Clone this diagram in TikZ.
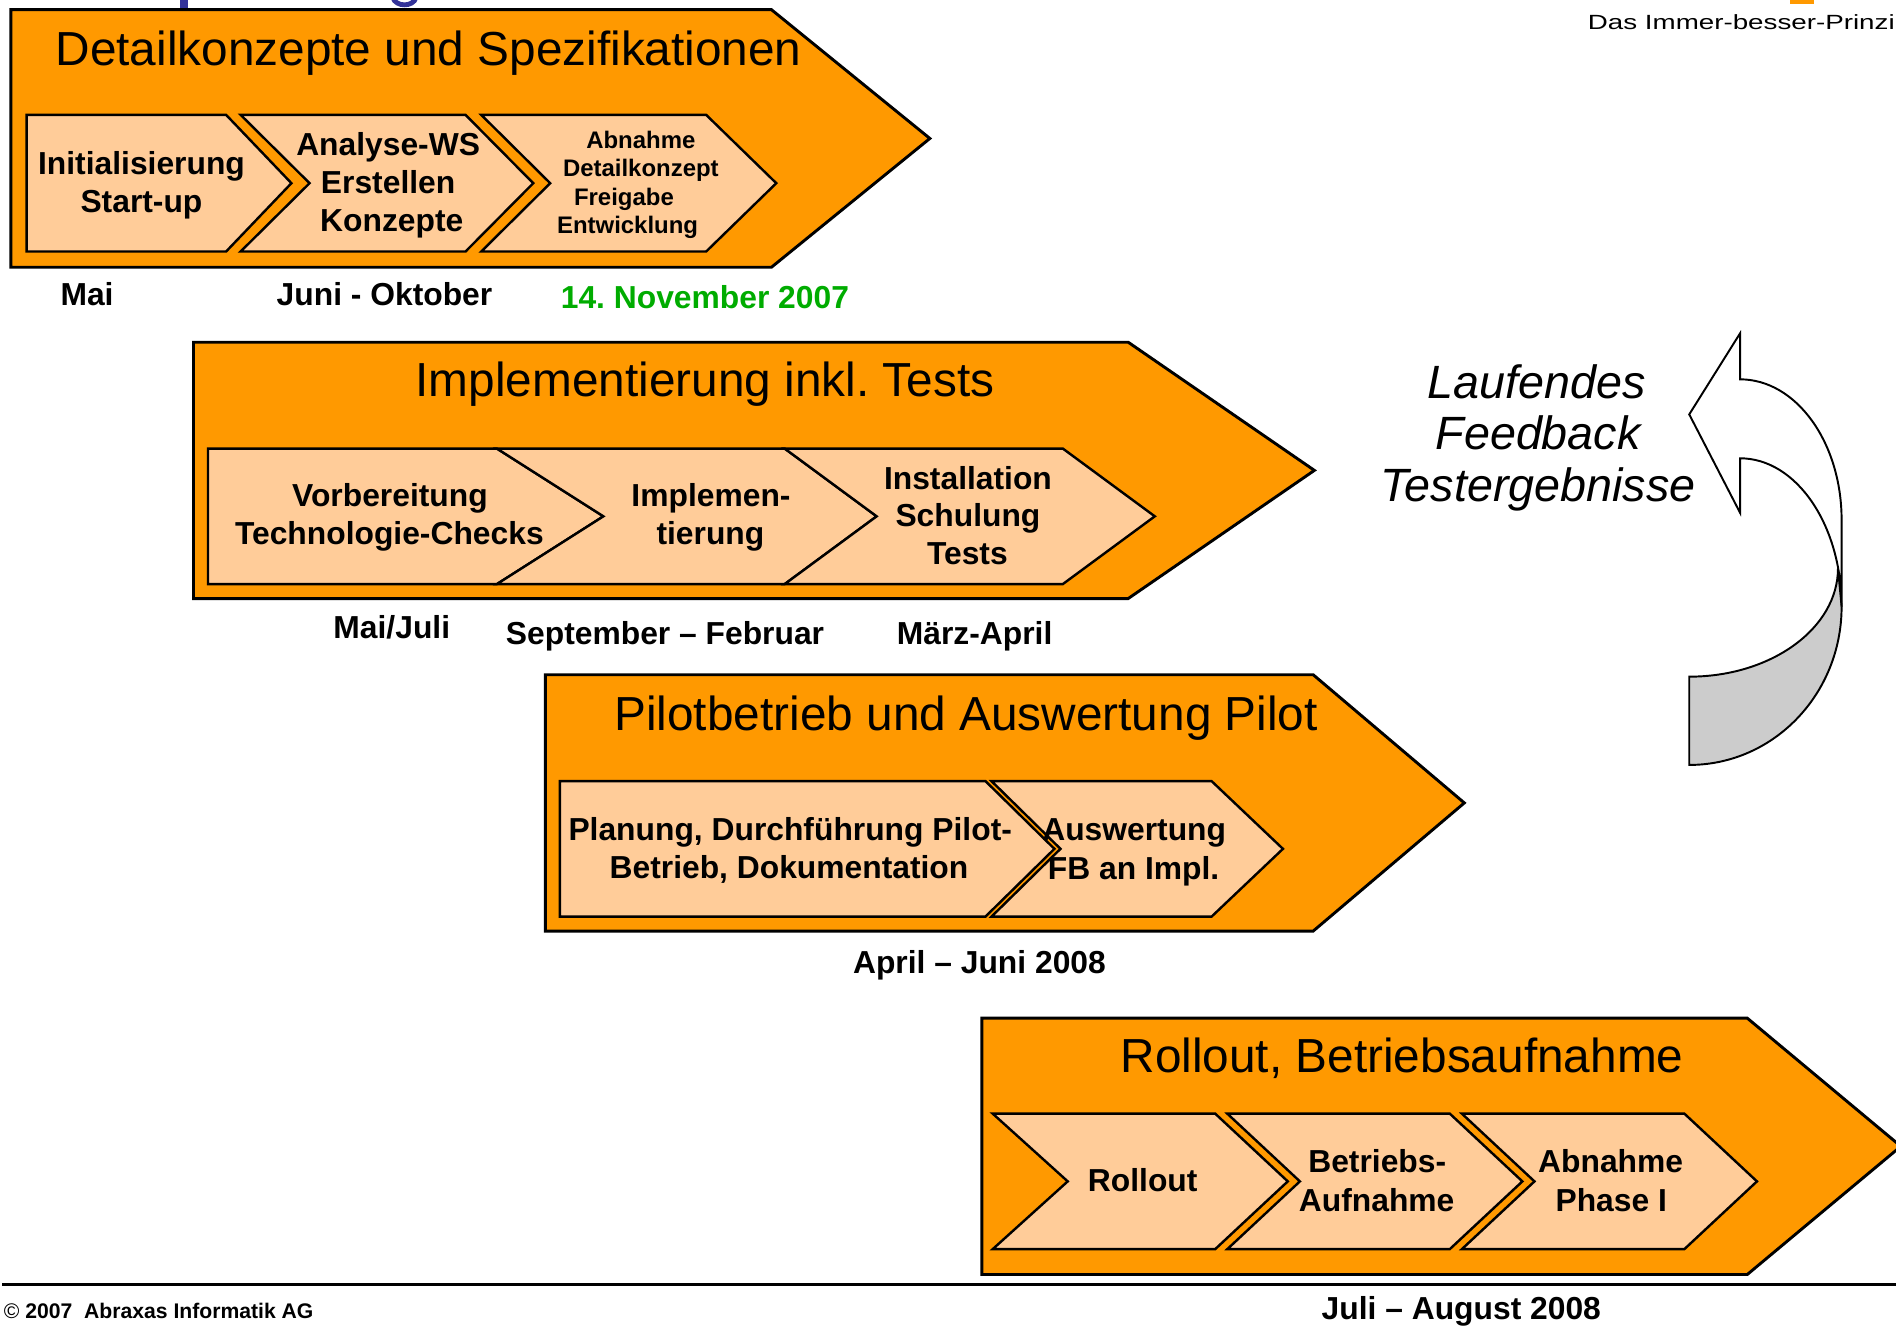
\documentclass[tikz,border=0pt]{standalone}
\usepackage{fontspec}
\setmainfont{Liberation Sans}
\frenchspacing
\definecolor{phaseorange}{RGB}{255,153,0}
\definecolor{stepfill}{RGB}{255,204,153}
\definecolor{backgrey}{RGB}{204,204,204}
\definecolor{dategreen}{RGB}{0,172,0}
\definecolor{titleblue}{RGB}{51,51,153}
\begin{document}
\begin{tikzpicture}[x=1pt,y=-1pt,
  phase/.style={draw=black,line width=2.4pt,fill=phaseorange,line join=miter},
  stepshape/.style={draw=black,line width=2pt,fill=stepfill,line join=miter},
  ttl/.style={anchor=base,inner sep=0pt,font=\fontsize{39.5}{44}\selectfont},
  lbl/.style={anchor=base,inner sep=0pt,font=\bfseries\fontsize{26.3}{30}\selectfont},
  sml/.style={anchor=base,inner sep=0pt,font=\bfseries\fontsize{19.8}{24}\selectfont},
  fbk/.style={anchor=base,inner sep=0pt,font=\itshape\fontsize{38.6}{43}\selectfont},
  arrowpart/.style={draw=black,line width=1.6pt,line join=miter}]
\useasboundingbox (0,0) rectangle (1568,1098);
\clip (0,0) rectangle (1568,1098);
\fill[white] (0,0) rectangle (1568,1098);

% fragments at the top edge
\fill[titleblue] (149,-1) rectangle (155.5,7);
\draw[titleblue,line width=4pt] (325,-2) .. controls (327,6) and (342,6) .. (344,-2);
\fill[phaseorange] (1480,-1) rectangle (1500,3);
\node[anchor=base west,inner sep=0pt,font=\fontsize{17}{20}\selectfont] (hdr) at (1313,24.8)
  {\scalebox{1.35}[1]{Das Immer-besser-Prinzip}};

% ---------- phase 1 ----------
\draw[phase] (9,8) -- (638,8) -- (769,114.5) -- (638,221) -- (9,221) -- cycle;
\node[ttl] (t1) at (354.5,54) {Detailkonzepte und Spezifikationen};
\draw[stepshape] (22,95) -- (187,95) -- (241,151.5) -- (187,208) -- (22,208) -- cycle;
\draw[stepshape] (199,95) -- (385,95) -- (441,151.5) -- (385,208) -- (199,208) -- (256,151.5) -- cycle;
\draw[stepshape] (398,95) -- (584,95) -- (642,151.5) -- (584,208) -- (398,208) -- (455,151.5) -- cycle;
\node[lbl] (a1) at (117,144.7) {Initialisierung};
\node[lbl] (a2) at (117,175.6) {Start-up};
\node[lbl] (b1) at (321,128.2) {Analyse-WS};
\node[lbl] (b2) at (321,160) {Erstellen};
\node[lbl] (b3) at (324,191.6) {Konzepte};
\node[sml] (c1) at (530,122.7) {Abnahme};
\node[sml] (c2) at (530,146.1) {Detailkonzept};
\node[sml] (c3) at (516,169.6) {Freigabe};
\node[sml] (c4) at (519,193) {Entwicklung};
\node[lbl] (d1) at (72,252.3) {Mai};
\node[lbl] (d2) at (318,252.3) {Juni - Oktober};
\node[lbl,text=dategreen] (d3) at (583,255) {14. November 2007};

% ---------- phase 2 ----------
\draw[phase] (160,283) -- (933,283) -- (1087,389) -- (933,495) -- (160,495) -- cycle;
\node[ttl] (t2) at (583,328) {Implementierung inkl. Tests};
\draw[stepshape] (172,371) -- (411,371) -- (499,427) -- (411,483) -- (172,483) -- cycle;
\draw[stepshape] (411,371) -- (649,371) -- (725,427) -- (649,483) -- (411,483) -- (499,427) -- cycle;
\draw[stepshape] (649,371) -- (879,371) -- (955,427) -- (879,483) -- (649,483) -- (725,427) -- cycle;
\node[lbl] (e1) at (322.5,419) {Vorbereitung};
\node[lbl] (e2) at (322,450.7) {Technologie-Checks};
\node[lbl] (f1) at (588,419) {Implemen-};
\node[lbl] (f2) at (587.5,450.7) {tierung};
\node[lbl] (g1) at (800.5,404.7) {Installation};
\node[lbl] (g2) at (800.5,435.6) {Schulung};
\node[lbl] (g3) at (800,466.7) {Tests};
\node[lbl] (d4) at (324,527.9) {Mai/Juli};
\node[lbl] (d5) at (550,533.4) {September – Februar};
\node[lbl] (d6) at (806,533.4) {März-April};

% ---------- phase 3 ----------
\draw[phase] (451,558) -- (1086,558) -- (1211,664) -- (1086,770) -- (451,770) -- cycle;
\node[ttl] (t3) at (799,604) {Pilotbetrieb und Auswertung Pilot};
\draw[stepshape] (463,646) -- (815,646) -- (872,702) -- (815,758) -- (463,758) -- cycle;
\draw[stepshape] (820,646) -- (1002,646) -- (1061,702) -- (1002,758) -- (820,758) -- (877,702) -- cycle;
\node[lbl] (h1) at (653.5,694.7) {Planung, Durchführung Pilot-};
\node[lbl] (h2) at (652.5,726.4) {Betrieb, Dokumentation};
\node[lbl] (i1) at (938,694.7) {Auswertung};
\node[lbl] (i2) at (937.5,727) {FB an Impl.};
\node[lbl] (d7) at (810,805) {April – Juni 2008};

% ---------- phase 4 ----------
\draw[phase] (812,842) -- (1445,842) -- (1572,948) -- (1445,1054) -- (812,1054) -- cycle;
\node[ttl] (t4) at (1159.5,887) {Rollout, Betriebsaufnahme};
\draw[stepshape] (821,921) -- (1005,921) -- (1065,977) -- (1005,1033) -- (821,1033) -- (883,977) -- cycle;
\draw[stepshape] (1015,921) -- (1199,921) -- (1259,977) -- (1199,1033) -- (1015,1033) -- (1075,977) -- cycle;
\draw[stepshape] (1209,921) -- (1393,921) -- (1453,977) -- (1393,1033) -- (1209,1033) -- (1269,977) -- cycle;
\node[lbl] (j1) at (945,985.5) {Rollout};
\node[lbl] (k1) at (1139,969.8) {Betriebs-};
\node[lbl] (k2) at (1138.5,1001.5) {Aufnahme};
\node[lbl] (l1) at (1332,969.8) {Abnahme};
\node[lbl] (l2) at (1332.5,1001.5) {Phase I};

% ---------- footer ----------
\draw[line width=2.5pt] (2,1062.5) -- (1570,1062.5);
\node[anchor=base west,inner sep=0pt,font=\bfseries\fontsize{17.5}{20}\selectfont] (copy) at (3,1090.2)
  {{\mdseries ©} 2007\ \ Abraxas Informatik AG};
\node[lbl] (d8) at (1208.5,1091.6) {Juli – August 2008};

% ---------- feedback arrow ----------
\node[fbk] (fb1) at (1271,329.4) {Laufendes};
\node[fbk] (fb2) at (1272,372.1) {Feedback};
\node[fbk] (fb3) at (1272,414.9) {Testergebnisse};
\draw[arrowpart,fill=backgrey] (1397,559.6) .. controls (1464.9,559.6) and (1520,519.5) .. (1520,470)
  -- (1523,501.7) .. controls (1523,574.1) and (1466.6,632.6) .. (1397,632.6) -- cycle;
\draw[arrowpart,fill=white] (1439,313.7) -- (1439,275.7) -- (1397,342.7) -- (1439,424) -- (1439,379)
  .. controls (1485.4,379) and (1523,433.9) .. (1523,501.7)
  -- (1523,430) .. controls (1523,365.8) and (1485.4,313.7) .. (1439,313.7) -- cycle;
\end{tikzpicture}
\end{document}
